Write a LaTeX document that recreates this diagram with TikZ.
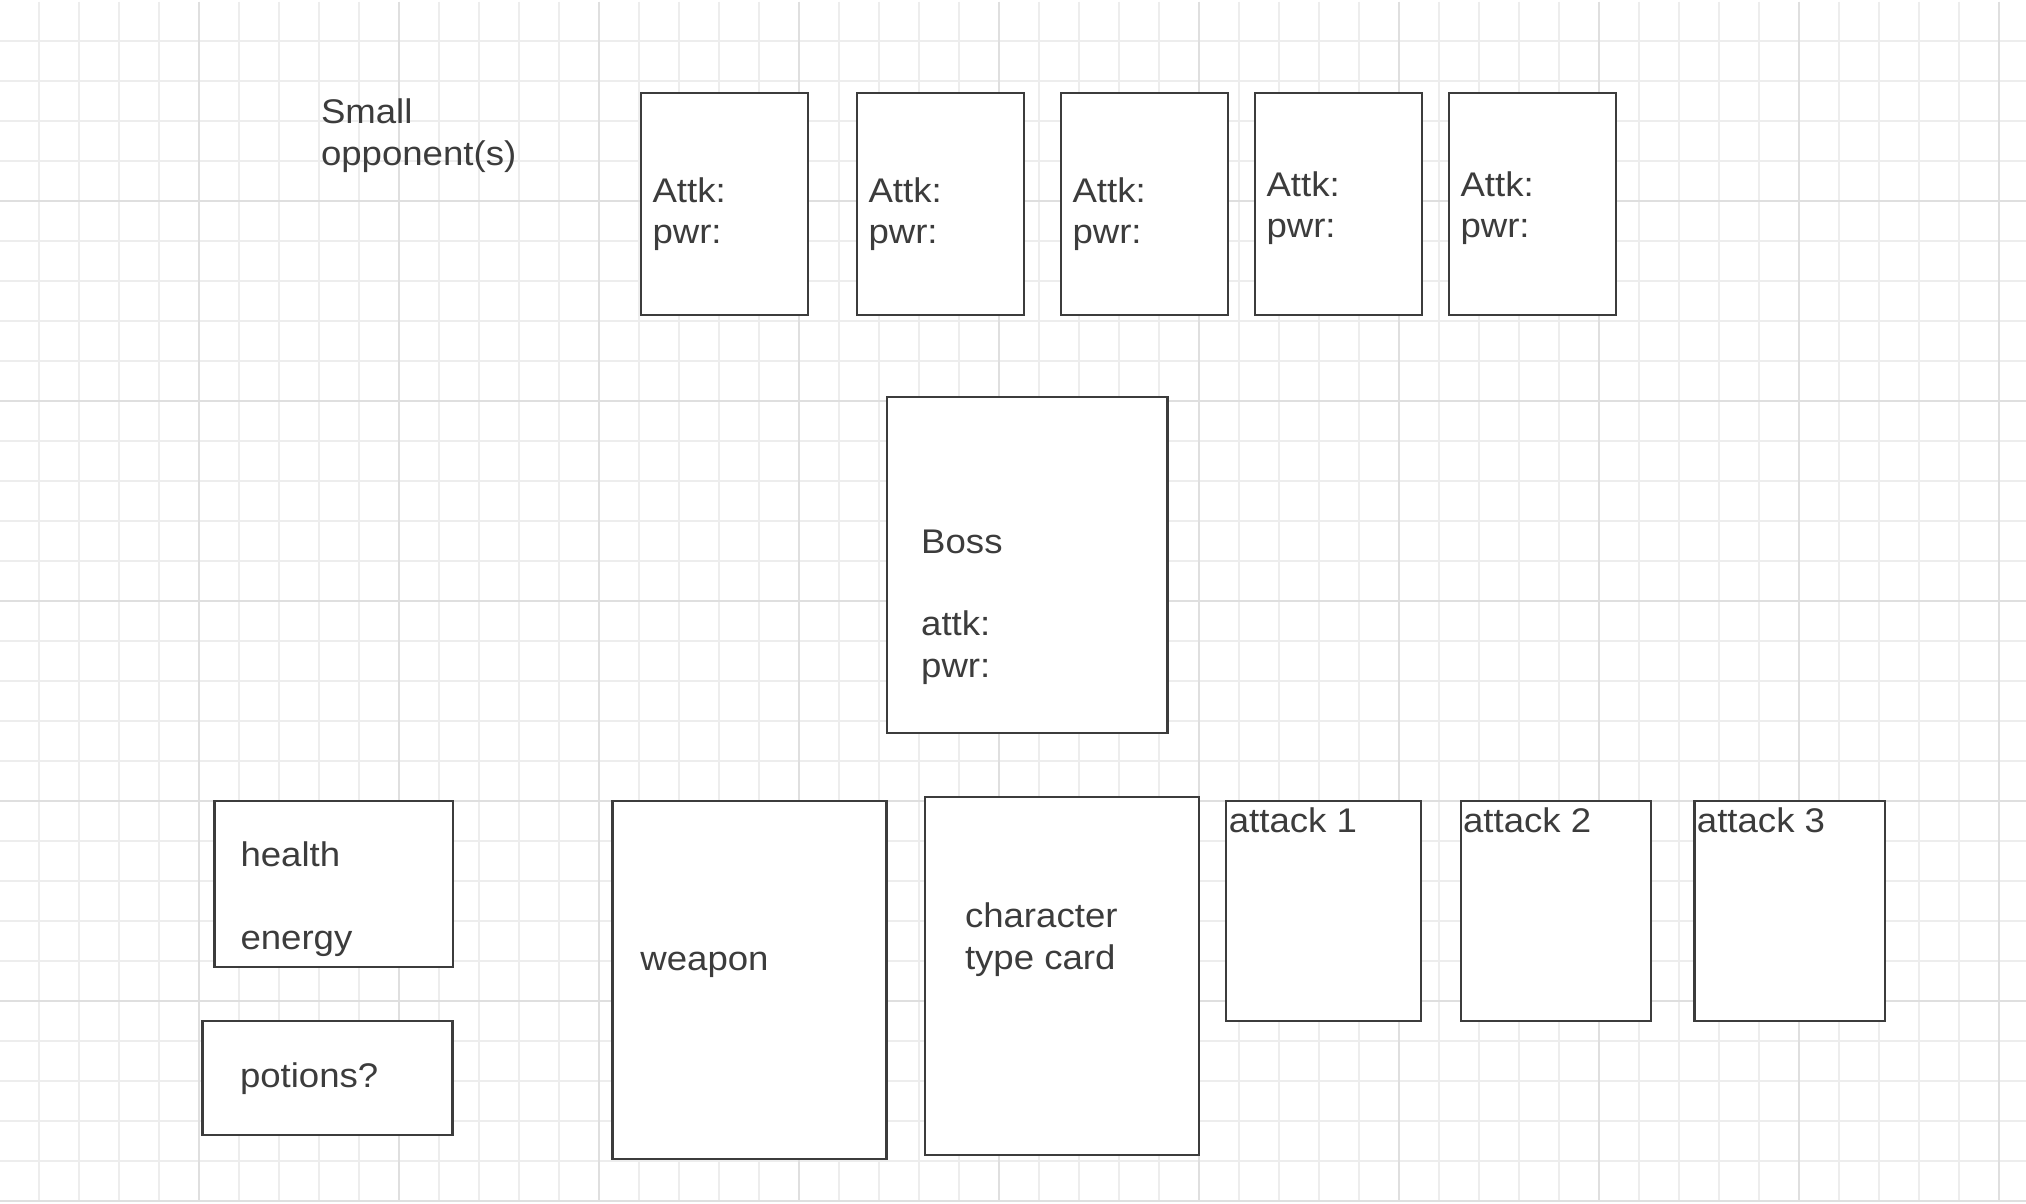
\documentclass[tikz,border=0pt]{standalone}
\usepackage{fontspec}
\setmainfont{Liberation Sans}[FakeStretch=1.07]
\definecolor{ink}{HTML}{3C3C3C}
\definecolor{gridminor}{HTML}{EDEDED}
\definecolor{gridmajor}{HTML}{DFDFDF}
\begin{document}
\begin{tikzpicture}[x = .5pt, y = -.5pt,
        card/.style = {rectangle, fill = white, draw = ink, line width = 1.1pt, inner sep = 0pt, outer sep = 0pt, anchor = north west},
        cardtext/.style = {anchor = base west, inner sep = 0pt, outer sep = 0pt, align = left, text = ink, font = \fontsize{17.1}{20.7}\selectfont}]
            \useasboundingbox (0, 0) rectangle (2026, 1204);
            \fill[white] (0, 0) rectangle (2026, 1204);

            % grid
            \foreach \gx in {39, 79, ..., 1999}
                \draw[gridminor, line width = .65pt] (\gx, 2) -- (\gx, 1201);
            \foreach \gy in {41, 81, ..., 1201}
                \draw[gridminor, line width = .65pt] (0, \gy) -- (2026, \gy);
            \foreach \gx in {199, 399, ..., 1999}
                \draw[gridmajor, line width = .65pt] (\gx, 2) -- (\gx, 1201);
            \foreach \gy in {201, 401, ..., 1201}
                \draw[gridmajor, line width = .65pt] (0, \gy) -- (2026, \gy);

            % small opponents (text anchored on the last line)
            \node[cardtext] (smalltext) at (321, 165.4) {Small\\opponent(s)};
            \foreach \cx/\ty [count = \i] in {641/150.5, 857/150.5, 1061/150.5, 1255/144.7, 1449/144.7}
                {
                    \node[card, minimum width = 83.5pt, minimum height = 111pt] at (\cx, 93) (opp\i) {};
                    \node[cardtext] at ([shift = {(11.5, \ty)}]opp\i.north west) (opptext\i) {Attk:\\pwr:};
                }

            % boss
            \node[card, minimum width = 140.3pt, minimum height = 168pt] at (886.8, 397) (boss) {};
            \node[cardtext] at ([shift = {(34.4, 280.3)}]boss.north west) (bosstext) {Boss\\ \\attk:\\pwr:};

            % player side
            \node[card, minimum width = 119.2pt, minimum height = 82.8pt] at (214.5, 801) (health) {};
            \node[cardtext] at ([shift = {(26, 148)}]health.north west) (healthtext) {health\\ \\energy};
            \node[card, minimum width = 125pt, minimum height = 57pt] at (202.5, 1021) (potions) {};
            \node[cardtext] at ([shift = {(37.5, 66)}]potions.north west) (potionstext) {potions?};
            \node[card, minimum width = 137pt, minimum height = 179pt] at (612.4, 801) (weapon) {};
            \node[cardtext] at ([shift = {(28, 169)}]weapon.north west) (weapontext) {weapon};
            \node[card, minimum width = 137pt, minimum height = 179pt] at (925, 797) (chartype) {};
            \node[cardtext] at ([shift = {(40, 172)}]chartype.north west) (chartypetext) {character\\type card};
            \foreach \ax/\aw [count = \i] in {1226.3/97.4pt, 1460.6/95.2pt, 1694.4/95.4pt}
                {
                    \node[card, minimum width = \aw, minimum height = 110pt] at (\ax, 801) (attack\i) {};
                    \node[cardtext] at ([shift = {(2.5, 31)}]attack\i.north west) (attacktext\i) {attack \i};
                }
        \end{tikzpicture}
\end{document}
